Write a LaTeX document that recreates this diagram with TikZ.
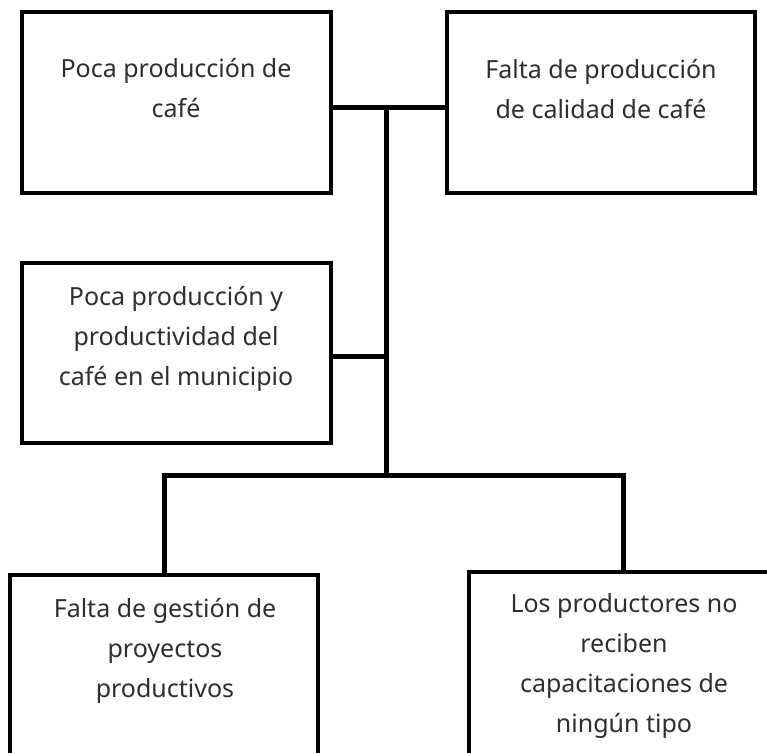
\documentclass[tikz,border=0pt]{standalone}
\usepackage{fontspec}
\setmainfont{Noto Sans}
\begin{document}
\begin{tikzpicture}[x=1pt,y=-1pt,
  box/.style={draw=black,line width=3.5pt,minimum width=#1,inner sep=0pt},
  box/.default=309pt,
  txt/.style={align=center,text=black!82,font=\fontsize{25}{40}\selectfont,inner sep=0pt,anchor=north},
  conn/.style={draw=black,line width=5pt}]
\useasboundingbox (0,0) rectangle (767,752);
\clip (0,0) rectangle (767,752);
% boxes
\node[box,minimum height=181pt] (b1) at (176.5,102.5) {};
\node[box,minimum height=181pt,minimum width=308pt] (b2) at (601,102.5) {};
\node[box,minimum height=180pt] (b3) at (176.5,353) {};
\node[box,minimum height=200pt,minimum width=308pt] (b4) at (164,675) {};
\node[box,minimum height=200pt,minimum width=308pt] (b5) at (623,672) {};
% texts
\node[txt] (t1) at (176,58) {Poca producción de\\café};
\node[txt] (t2) at (601,59) {Falta de producción\\de calidad de café};
\node[txt] (t3) at (176,286) {Poca producción y\\productividad del\\café en el municipio};
\node[txt] (t4) at (165,598) {Falta de gestión de\\proyectos\\productivos};
\node[txt] (t5) at (624,593) {Los productores no\\reciben\\capacitaciones de\\ningún tipo};
% connectors
\coordinate (j1) at (386,107);
\coordinate (j2) at (386,356);
\coordinate (j3) at (386,475);
\draw[conn] (b1.east |- j1) -- (b2.west |- j1);
\draw[conn] (j1) -- (j3);
\draw[conn] (b3.east |- j2) -- (j2);
\draw[conn] (b4.north) |- (j3) -| (b5.north);
\end{tikzpicture}
\end{document}
